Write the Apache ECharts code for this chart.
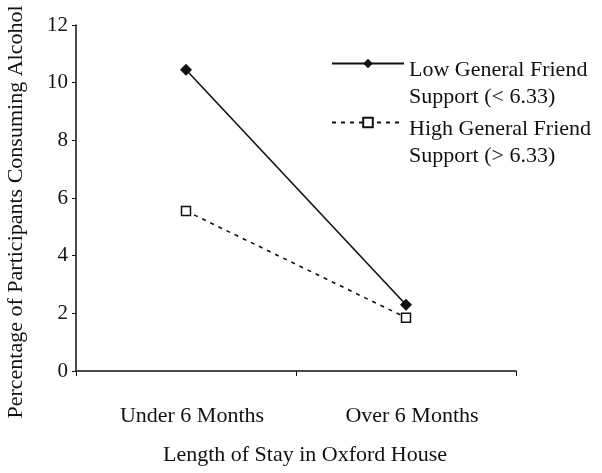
<!DOCTYPE html>
<html>
<head>
<meta charset="utf-8">
<script src="https://cdn.jsdelivr.net/npm/echarts@6/dist/echarts.min.js"></script>
<style>
  html, body { margin: 0; padding: 0; background: #fff; }
  #chart { width: 602px; height: 473px; }
</style>
</head>
<body>
<div id="chart"></div>
<script>
// data
const categories = ['Under 6 Months', 'Over 6 Months'];
const seriesNames = ['Low General Friend\nSupport (< 6.33)', 'High General Friend\nSupport (> 6.33)'];
const lowSupport = [10.45, 2.3];
const highSupport = [5.55, 1.85];
const yTicks = [0, 2, 4, 6, 8, 10, 12];

const serif = '"Liberation Serif", "DejaVu Serif", serif';
const ink = '#111';

// one legend per series; an empty spacer line pushes the text down so the
// icon sits level with the first text line
const legendFor = (name, top) => ({
  left: 331,
  top: top,
  padding: 0,
  itemWidth: 72,
  itemHeight: 12,
  formatter: n => '{g| }\n' + n,
  textStyle: {
    fontFamily: serif, fontSize: 22, color: ink, lineHeight: 27,
    rich: { g: { fontSize: 2, lineHeight: 41 } }
  },
  data: [name]
});

const chart = echarts.init(document.getElementById('chart'));

chart.setOption({
  backgroundColor: '#fff',
  animation: false,
  grid: { left: 76, right: 86, top: 25, bottom: 102, outerBoundsMode: 'none', containLabel: false },
  legend: [legendFor(seriesNames[0], 16), legendFor(seriesNames[1], 75)],
  xAxis: {
    type: 'category',
    data: categories,
    boundaryGap: true,
    name: 'Length of Stay in Oxford House',
    nameLocation: 'middle',
    nameGap: 73,
    nameTextStyle: { fontFamily: serif, fontSize: 22, color: ink, padding: [0, 0, 0, 18] },
    axisLine: { lineStyle: { color: ink, width: 1.5 } },
    axisTick: { show: true, alignWithLabel: false, length: 5, lineStyle: { color: ink } },
    axisLabel: { fontFamily: serif, fontSize: 22, color: ink, margin: 34, padding: [0, 0, 0, 12] }
  },
  yAxis: {
    type: 'value',
    min: yTicks[0],
    max: yTicks[yTicks.length - 1],
    interval: 2,
    name: 'Percentage of Participants Consuming Alcohol',
    nameLocation: 'middle',
    nameGap: 49,
    nameTextStyle: { fontFamily: serif, fontSize: 22, color: ink, padding: [0, 28, 0, 0] },
    axisLine: { show: true, lineStyle: { color: ink, width: 1.5 } },
    axisTick: { show: true, length: 4, lineStyle: { color: ink } },
    axisLabel: { fontFamily: serif, fontSize: 21, color: ink, margin: 8 },
    splitLine: { show: false }
  },
  series: [
    {
      name: seriesNames[0],
      type: 'line',
      data: lowSupport,
      symbol: 'diamond',
      symbolSize: 12,
      itemStyle: { color: ink },
      lineStyle: { color: ink, width: 1.6, type: 'solid' }
    },
    {
      name: seriesNames[1],
      type: 'line',
      data: highSupport,
      symbol: 'rect',
      symbolSize: 9,
      itemStyle: { color: '#fff', borderColor: ink, borderWidth: 1.5 },
      lineStyle: { color: ink, width: 1.6, type: [4, 5] }
    }
  ]
});
</script>
</body>
</html>
